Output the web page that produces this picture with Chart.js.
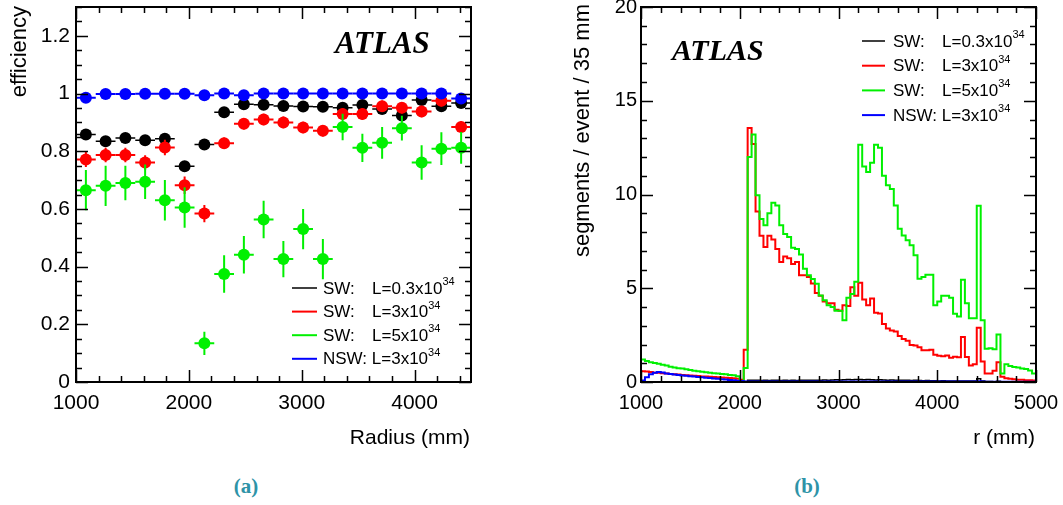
<!DOCTYPE html>
<html>
<head>
<meta charset="utf-8">
<script src="https://cdn.jsdelivr.net/npm/chart.js@4.4.1/dist/chart.umd.min.js"></script>
<style>
  body { margin:0; background:#fff; width:1063px; height:505px; position:relative; overflow:hidden; }
  #left { position:absolute; left:0; top:0; }
  #right { position:absolute; left:531px; top:0; }
  .cap { position:absolute; top:474px; width:60px; text-align:center; font: bold 21px "Liberation Serif", serif; color:#2e93a7; }
</style>
</head>
<body>
<canvas id="left" width="531" height="460"></canvas>
<canvas id="right" width="532" height="460"></canvas>
<div class="cap" style="left:216px">(a)</div>
<div class="cap" style="left:777px">(b)</div>
<script>
// ---- (a) efficiency vs radius ----
const radius = [1087.5, 1262.5, 1437.5, 1612.5, 1787.5, 1962.5, 2137.5, 2312.5, 2487.5, 2662.5,
  2837.5, 3012.5, 3187.5, 3362.5, 3537.5, 3712.5, 3887.5, 4062.5, 4237.5, 4412.5];
const binHalf = 87.5;

const effSW03 = [0.858, 0.835, 0.846, 0.838, 0.843, 0.748, 0.823, 0.935, 0.963, 0.961,
  0.957, 0.955, 0.954, 0.951, 0.960, 0.946, 0.924, 0.978, 0.956, 0.967];
const errSW03 = [0.012, 0.012, 0.012, 0.012, 0.012, 0.015, 0.012, 0.01, 0.01, 0.01,
  0.01, 0.01, 0.01, 0.01, 0.01, 0.01, 0.012, 0.01, 0.01, 0.01];

const effSW3 = [0.771, 0.787, 0.787, 0.761, 0.813, 0.682, 0.584, 0.828, 0.895, 0.910,
  0.900, 0.882, 0.871, 0.929, 0.929, 0.956, 0.951, 0.938, 0.975, 0.884];
const errSW3 = [0.026, 0.025, 0.025, 0.025, 0.027, 0.03, 0.03, 0.02, 0.02, 0.02,
  0.02, 0.02, 0.02, 0.02, 0.02, 0.02, 0.02, 0.02, 0.02, 0.02];

const effSW5 = [0.665, 0.680, 0.690, 0.694, 0.630, 0.605, 0.134, 0.374, 0.441, 0.563,
  0.426, 0.530, 0.426, 0.884, 0.812, 0.829, 0.880, 0.761, 0.809, 0.812];
const errSW5 = [0.07, 0.07, 0.06, 0.06, 0.07, 0.07, 0.04, 0.065, 0.065, 0.065,
  0.063, 0.07, 0.07, 0.046, 0.049, 0.055, 0.043, 0.06, 0.057, 0.055];

const effNSW3 = [0.985, 0.998, 0.998, 0.999, 0.999, 0.999, 0.994, 1.0, 0.994, 1.0,
  1.0, 1.0, 1.0, 1.0, 1.0, 1.0, 1.0, 1.0, 1.0, 0.983];
const errNSW3 = [0.004, 0.002, 0.002, 0.002, 0.002, 0.002, 0.003, 0.002, 0.003, 0.002,
  0.002, 0.002, 0.002, 0.002, 0.002, 0.002, 0.002, 0.002, 0.002, 0.004];

const leftXTicks = [1000, 2000, 3000, 4000];
const leftYTicks = [0, 0.2, 0.4, 0.6, 0.8, 1, 1.2];

// ---- (b) segments per event, 40 mm bins from 1000 mm ----
const segSW03 = [0.02, 0.02, 0.02, 0.02, 0.02, 0.02, 0.02, 0.02, 0.02, 0.02,
  0.02, 0.02, 0.02, 0.02, 0.02, 0.02, 0.02, 0.02, 0.02, 0.02,
  0.02, 0.02, 0.02, 0.02, 0.02, 0.02, 0.03, 0.09, 0.10, 0.09,
  0.08, 0.09, 0.08, 0.09, 0.09, 0.08, 0.09, 0.08, 0.09, 0.08,
  0.09, 0.09, 0.10, 0.09, 0.10, 0.10, 0.11, 0.10, 0.11, 0.12,
  0.11, 0.12, 0.13, 0.12, 0.14, 0.13, 0.12, 0.13, 0.12, 0.11,
  0.12, 0.11, 0.10, 0.11, 0.10, 0.09, 0.10, 0.09, 0.08, 0.09,
  0.08, 0.07, 0.08, 0.07, 0.07, 0.06, 0.07, 0.06, 0.06, 0.05,
  0.06, 0.05, 0.06, 0.05, 0.05, 0.18, 0.06, 0.03, 0.03, 0.02,
  0.04, 0.02, 0.02, 0.02, 0.02, 0.01, 0.02, 0.01, 0.01, 0.01];

const segSW3 = [0.58, 0.56, 0.53, 0.50, 0.49, 0.47, 0.45, 0.43, 0.42, 0.40,
  0.38, 0.36, 0.35, 0.33, 0.32, 0.30, 0.29, 0.28, 0.27, 0.26,
  0.24, 0.23, 0.22, 0.20, 0.18, 0.12, 1.72, 13.55, 12.7, 9.1,
  7.8, 7.2, 7.8, 7.6, 7.1, 6.4, 6.7, 6.6, 6.3, 6.4,
  5.7, 5.7, 5.6, 5.25, 4.75, 4.6, 4.3, 4.2, 4.2, 3.85,
  3.8, 4.1, 4.05, 5.05, 4.6, 5.3, 4.4, 4.1, 4.45, 3.7,
  3.65, 3.1, 2.85, 2.75, 2.7, 2.45, 2.3, 2.2, 1.98, 1.95,
  1.85, 1.7, 1.7, 1.72, 1.45, 1.4, 1.38, 1.42, 1.3, 1.35,
  1.32, 2.4, 1.33, 0.88, 0.95, 2.9, 1.1, 0.45, 0.45, 0.6,
  1.05, 0.28, 0.2, 0.18, 0.15, 0.12, 0.12, 0.1, 0.1, 0.08];

const segSW5 = [1.20, 1.12, 1.06, 1.02, 0.98, 0.92, 0.88, 0.82, 0.78, 0.74,
  0.72, 0.68, 0.64, 0.60, 0.57, 0.55, 0.52, 0.49, 0.47, 0.45,
  0.43, 0.41, 0.38, 0.36, 0.31, 0.03, 0.75, 12.0, 13.2, 9.96,
  8.7, 8.36, 9.0, 9.56, 9.42, 8.36, 7.9, 7.73, 7.16, 7.1,
  6.8, 6.04, 5.69, 5.5, 5.24, 4.62, 4.36, 4.09, 4.0, 3.8,
  3.8, 3.3, 4.5, 4.7, 5.35, 12.66, 11.5, 11.2, 11.7, 12.66,
  12.5, 11.0, 10.5, 10.3, 9.42, 8.18, 7.82, 7.56, 7.29, 6.76,
  5.51, 5.6, 5.72, 5.72, 4.1, 4.3, 4.6, 4.6, 4.5, 3.64,
  3.5, 5.46, 4.2, 3.4, 3.4, 9.4, 3.3, 1.78, 1.8, 1.75,
  2.54, 0.45, 0.95, 0.85, 0.8, 0.78, 0.72, 0.7, 0.62, 0.45];

const segNSW3 = [0.08, 0.25, 0.42, 0.50, 0.53, 0.51, 0.46, 0.43, 0.40, 0.37,
  0.35, 0.33, 0.31, 0.29, 0.27, 0.25, 0.23, 0.21, 0.19, 0.17,
  0.15, 0.13, 0.11, 0.09, 0.07, 0.05, 0.03, 0.03, 0.03, 0.03,
  0.03, 0.03, 0.03, 0.03, 0.03, 0.03, 0.03, 0.03, 0.03, 0.03,
  0.03, 0.03, 0.03, 0.03, 0.03, 0.03, 0.03, 0.03, 0.03, 0.03,
  0.03, 0.03, 0.03, 0.03, 0.03, 0.03, 0.03, 0.03, 0.03, 0.03,
  0.03, 0.03, 0.03, 0.03, 0.03, 0.03, 0.03, 0.03, 0.03, 0.03,
  0.03, 0.03, 0.03, 0.03, 0.03, 0.03, 0.03, 0.03, 0.03, 0.03,
  0.03, 0.03, 0.03, 0.03, 0.03, 0.04, 0.03, 0.02, 0.02, 0.02,
  0.02, 0.02, 0.02, 0.02, 0.02, 0.02, 0.02, 0.02, 0.02, 0.02];

const rightXTicks = [1000, 2000, 3000, 4000, 5000];
const rightYTicks = [0, 5, 10, 15, 20];

const histStart = 1000, binWidth = 40, histEnd = 5000;

const SANS = '"Liberation Sans", Arial, Helvetica, sans-serif';
const SERIF = '"Liberation Serif", "Times New Roman", serif';
const BLACK = '#000000', RED = '#ff0000', GREEN = '#00f000', BLUE = '#0000ff';

// histogram outline as step line: low edges + closing edge
function histPoints(vals) {
  const p = vals.map((v, i) => ({ x: histStart + binWidth * i, y: v }));
  p.push({ x: histEnd, y: vals[vals.length - 1] });
  return p;
}

function errPoints(ys) {
  return radius.map((x, i) => ({ x: x, y: ys[i] }));
}

// error bars, drawn right before each dataset's markers
const errorBars = {
  id: 'errorBars',
  beforeDatasetDraw(chart, args) {
    const ds = chart.data.datasets[args.index];
    if (!ds.errY) return;
    const { ctx, chartArea, scales: { x, y } } = chart;
    ctx.save();
    ctx.beginPath();
    ctx.rect(chartArea.left, chartArea.top, chartArea.width, chartArea.height);
    ctx.clip();
    ctx.strokeStyle = ds.backgroundColor;
    ctx.lineWidth = ds.errWidth;
    ds.data.forEach((p, i) => {
      const px = x.getPixelForValue(p.x), py = y.getPixelForValue(p.y);
      ctx.beginPath();
      ctx.moveTo(x.getPixelForValue(p.x - binHalf), py);
      ctx.lineTo(x.getPixelForValue(p.x + binHalf), py);
      ctx.moveTo(px, y.getPixelForValue(p.y - ds.errY[i]));
      ctx.lineTo(px, y.getPixelForValue(p.y + ds.errY[i]));
      ctx.stroke();
    });
    ctx.restore();
  }
};

// ROOT style frame with inner ticks on all four sides
function drawFrame(chart, xMinor, xMajor, yMinor, yMajor) {
  const { ctx, chartArea: a, scales: { x, y } } = chart;
  ctx.save();
  ctx.strokeStyle = '#000';
  ctx.lineWidth = 1.5;
  ctx.beginPath();
  const eps = 1e-6;
  for (let v = x.min; v <= x.max + eps; v += xMinor) {
    const px = Math.round(x.getPixelForValue(v)) + 0.5;
    const major = Math.abs(v / xMajor - Math.round(v / xMajor)) < 1e-6;
    const len = major ? 12 : 6;
    ctx.moveTo(px, a.bottom); ctx.lineTo(px, a.bottom - len);
    ctx.moveTo(px, a.top); ctx.lineTo(px, a.top + len);
  }
  for (let v = y.min; v <= y.max + eps; v += yMinor) {
    const py = Math.round(y.getPixelForValue(v)) + 0.5;
    const major = Math.abs(v / yMajor - Math.round(v / yMajor)) < 1e-6;
    const len = major ? 12 : 6;
    ctx.moveTo(a.left, py); ctx.lineTo(a.left + len, py);
    ctx.moveTo(a.right, py); ctx.lineTo(a.right - len, py);
  }
  ctx.stroke();
  ctx.lineWidth = 2;
  ctx.strokeRect(a.left, a.top, a.width, a.height);
  ctx.restore();
}

function drawLegendRow(ctx, l, y, color, name, lum, sup) {
  ctx.save();
  ctx.strokeStyle = color;
  ctx.lineWidth = color === BLACK ? 1.5 : 2;
  ctx.beginPath();
  ctx.moveTo(l.x0, y); ctx.lineTo(l.x1, y);
  ctx.stroke();
  ctx.fillStyle = '#000';
  ctx.textBaseline = 'middle';
  ctx.textAlign = 'left';
  ctx.font = l.size + 'px ' + SANS;
  ctx.fillText(name, l.tx, y + 1);
  const lx = name === 'NSW:' ? l.tx + ctx.measureText('NSW: ').width : l.lx;
  ctx.fillText(lum, lx, y + 1);
  const w = ctx.measureText(lum).width;
  ctx.font = Math.round(l.size * 0.66) + 'px ' + SANS;
  ctx.fillText(sup, lx + w, y - 6);
  ctx.restore();
}

const legendRows = [
  [BLACK, 'SW:', 'L=0.3x10', '34'],
  [RED, 'SW:', 'L=3x10', '34'],
  [GREEN, 'SW:', 'L=5x10', '34'],
  [BLUE, 'NSW:', 'L=3x10', '34']
];

function rotatedTitle(ctx, text, x, yTop, size) {
  ctx.save();
  ctx.translate(x, yTop);
  ctx.rotate(-Math.PI / 2);
  ctx.textAlign = 'right';
  ctx.textBaseline = 'middle';
  ctx.font = size + 'px ' + SANS;
  ctx.fillStyle = '#000';
  ctx.fillText(text, 0, 0);
  ctx.restore();
}

function plainText(ctx, text, x, y, font, align) {
  ctx.save();
  ctx.font = font;
  ctx.fillStyle = '#000';
  ctx.textAlign = align;
  ctx.textBaseline = 'alphabetic';
  ctx.fillText(text, x, y);
  ctx.restore();
}

const leftDecor = {
  id: 'leftDecor',
  afterDraw(chart) {
    const ctx = chart.ctx;
    drawFrame(chart, 200, 1000, 0.05, 0.2);
    rotatedTitle(ctx, 'efficiency', 20, 6, 22);
    plainText(ctx, 'Radius (mm)', 470, 444, '21px ' + SANS, 'right');
    plainText(ctx, 'ATLAS', 335, 53, 'italic bold 31px ' + SERIF, 'left');
    const l = { x0: 292, x1: 317, tx: 323, lx: 372, size: 17 };
    legendRows.forEach((r, i) => drawLegendRow(ctx, l, 288 + i * 23.6, r[0], r[1], r[2], r[3]));
  }
};

const rightDecor = {
  id: 'rightDecor',
  afterDraw(chart) {
    const ctx = chart.ctx;
    drawFrame(chart, 200, 1000, 1, 5);
    rotatedTitle(ctx, 'segments / event / 35 mm', 52, 4, 22);
    plainText(ctx, 'r (mm)', 504, 444, '21px ' + SANS, 'right');
    plainText(ctx, 'ATLAS', 141, 60, 'italic bold 30px ' + SERIF, 'left');
    const l = { x0: 331, x1: 354, tx: 362, lx: 411, size: 17 };
    legendRows.forEach((r, i) => drawLegendRow(ctx, l, 41 + i * 24.7, r[0], r[1], r[2], r[3]));
  }
};

function fixedTicks(list) {
  return s => { s.ticks = list.map(v => ({ value: v })); };
}

function axisX(min, max, list, size) {
  return {
    type: 'linear', min: min, max: max,
    grid: { display: false, drawTicks: false, tickLength: 0 }, border: { display: false },
    afterBuildTicks: fixedTicks(list),
    ticks: { autoSkip: false, maxRotation: 0, padding: 9, color: '#000',
      font: { family: SANS, size: size }, callback: v => String(v) },
    afterFit: s => { s.height = 40; s.paddingLeft = 0; s.paddingRight = 0; }
  };
}

function axisY(min, max, list, size, pad) {
  return {
    type: 'linear', min: min, max: max,
    grid: { display: false, drawTicks: false, tickLength: 0 }, border: { display: false },
    afterBuildTicks: fixedTicks(list),
    ticks: { autoSkip: false, padding: pad, color: '#000',
      font: { family: SANS, size: size }, callback: v => String(+v.toFixed(2)) },
    afterFit: s => { s.width = 50; s.paddingTop = 0; s.paddingBottom = 0; }
  };
}

function scatterSet(ys, es, color, order, w) {
  return {
    data: errPoints(ys), errY: es, errWidth: w,
    backgroundColor: color, borderColor: color,
    pointRadius: 6, pointBorderWidth: 0, pointHoverRadius: 6,
    showLine: false, order: order
  };
}

new Chart(document.getElementById('left'), {
  type: 'scatter',
  data: {
    datasets: [
      scatterSet(effNSW3, errNSW3, BLUE, 1, 2),
      scatterSet(effSW5, errSW5, GREEN, 2, 2),
      scatterSet(effSW3, errSW3, RED, 3, 2),
      scatterSet(effSW03, errSW03, BLACK, 4, 1.5)
    ]
  },
  options: {
    responsive: false,
    animation: false,
    layout: { padding: { left: 26, right: 60, top: 7, bottom: 38 } },
    plugins: { legend: { display: false }, tooltip: { enabled: false } },
    scales: {
      x: axisX(1000, 4500, leftXTicks, 21),
      y: axisY(0, 1.3, leftYTicks, 21, 6)
    }
  },
  plugins: [errorBars, leftDecor]
});

function histSet(vals, color, order, w) {
  return {
    data: histPoints(vals), borderColor: color, backgroundColor: color,
    borderWidth: w, pointRadius: 0, fill: false, stepped: 'before', order: order
  };
}

new Chart(document.getElementById('right'), {
  type: 'line',
  data: {
    datasets: [
      histSet(segNSW3, BLUE, 1, 2),
      histSet(segSW5, GREEN, 2, 2),
      histSet(segSW3, RED, 3, 2),
      histSet(segSW03, BLACK, 4, 1.5)
    ]
  },
  options: {
    responsive: false,
    animation: false,
    layout: { padding: { left: 60, right: 27, top: 7, bottom: 38 } },
    plugins: { legend: { display: false }, tooltip: { enabled: false } },
    scales: {
      x: axisX(1000, 5000, rightXTicks, 20),
      y: axisY(0, 20, rightYTicks, 20, 4)
    }
  },
  plugins: [rightDecor]
});
</script>
</body>
</html>
